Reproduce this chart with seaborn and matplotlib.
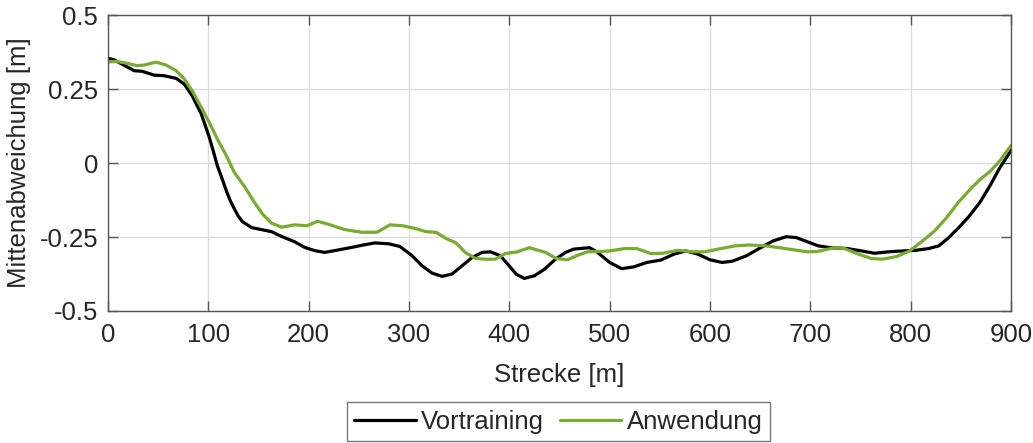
import numpy as np
import pandas as pd
import matplotlib
matplotlib.use("Agg")
import matplotlib.pyplot as plt
import seaborn as sns

# values
vortraining_x = [0, 6, 26, 34, 46, 56, 68, 76, 84, 93, 101, 105, 109, 114, 118, 122, 126, 130,
                 134, 143, 153, 163, 173, 186, 196, 206, 216, 226, 243, 256, 266, 280, 291, 303,
                 313, 323, 333, 343, 353, 363, 373, 381, 391, 400, 407, 415, 425, 435, 446, 456,
                 464, 480, 488, 500, 512, 524, 537, 551, 564, 576, 588, 600, 612, 622, 636, 649,
                 663, 676, 686, 697, 708, 720, 737, 751, 764, 778, 792, 805, 818, 828, 838, 848,
                 858, 869, 879, 889, 900]
vortraining_y = [0.354, 0.349, 0.312, 0.310, 0.297, 0.295, 0.286, 0.267, 0.227, 0.166, 0.087,
                 0.040, -0.009, -0.055, -0.094, -0.128, -0.155, -0.180, -0.198, -0.218, -0.225,
                 -0.232, -0.248, -0.266, -0.285, -0.296, -0.302, -0.296, -0.285, -0.276, -0.270,
                 -0.273, -0.282, -0.313, -0.347, -0.372, -0.383, -0.375, -0.347, -0.319, -0.302,
                 -0.300, -0.313, -0.348, -0.376, -0.390, -0.381, -0.359, -0.325, -0.302, -0.291,
                 -0.286, -0.302, -0.336, -0.357, -0.351, -0.336, -0.328, -0.308, -0.297, -0.308,
                 -0.327, -0.336, -0.332, -0.314, -0.289, -0.263, -0.249, -0.252, -0.266, -0.280,
                 -0.286, -0.289, -0.297, -0.305, -0.300, -0.297, -0.295, -0.289, -0.280, -0.252,
                 -0.218, -0.181, -0.133, -0.077, -0.015, 0.042]

anwendung_x = [0, 9, 19, 29, 36, 48, 58, 68, 76, 84, 93, 101, 109, 118, 126, 136, 146, 154, 163,
               173, 186, 198, 209, 219, 236, 253, 268, 281, 294, 306, 317, 327, 337, 347, 356,
               366, 376, 386, 396, 408, 420, 436, 447, 458, 468, 478, 490, 500, 515, 527, 541,
               553, 568, 582, 595, 608, 625, 639, 656, 669, 683, 697, 707, 724, 734, 748, 761,
               772, 786, 799, 812, 824, 836, 847, 859, 869, 879, 889, 900]
anwendung_y = [0.342, 0.343, 0.337, 0.329, 0.331, 0.341, 0.331, 0.312, 0.284, 0.244, 0.188,
               0.137, 0.081, 0.025, -0.032, -0.079, -0.133, -0.172, -0.203, -0.217, -0.209,
               -0.212, -0.197, -0.206, -0.225, -0.234, -0.234, -0.209, -0.212, -0.221, -0.232,
               -0.234, -0.255, -0.270, -0.302, -0.322, -0.325, -0.325, -0.306, -0.300, -0.286,
               -0.302, -0.323, -0.327, -0.312, -0.300, -0.299, -0.297, -0.289, -0.289, -0.306,
               -0.305, -0.295, -0.300, -0.300, -0.291, -0.280, -0.277, -0.280, -0.286, -0.293,
               -0.300, -0.299, -0.286, -0.289, -0.308, -0.323, -0.325, -0.316, -0.297, -0.263,
               -0.229, -0.184, -0.135, -0.090, -0.056, -0.029, 0.008, 0.059]

x_ticks = [0, 100, 200, 300, 400, 500, 600, 700, 800, 900]
y_ticks = [-0.5, -0.25, 0, 0.25, 0.5]
y_tick_labels = ["-0.5", "-0.25", "0", "0.25", "0.5"]

df = pd.concat([
    pd.DataFrame({"Strecke": vortraining_x, "Abweichung": vortraining_y, "Lauf": "Vortraining"}),
    pd.DataFrame({"Strecke": anwendung_x, "Abweichung": anwendung_y, "Lauf": "Anwendung"}),
])

sns.set_theme(style="ticks")
plt.rcParams["font.family"] = ["Liberation Sans", "DejaVu Sans"]
plt.rcParams["text.color"] = "#262626"
plt.rcParams["axes.labelcolor"] = "#262626"
plt.rcParams["xtick.color"] = "#262626"
plt.rcParams["ytick.color"] = "#262626"

fig = plt.figure(figsize=(10.33, 4.43), dpi=100)
ax = fig.add_axes([0.1045, 0.298, 0.8742, 0.668])

sns.lineplot(data=df, x="Strecke", y="Abweichung", hue="Lauf",
             palette={"Vortraining": "#000000", "Anwendung": "#77AC30"},
             linewidth=2.3, sort=False, estimator=None, ax=ax)

ax.set_xlim(0, 900)
ax.set_ylim(-0.5, 0.5)
ax.set_xticks(x_ticks)
ax.set_yticks(y_ticks)
ax.set_yticklabels(y_tick_labels)
ax.grid(True, color="#dcdcdc", linewidth=0.9)
ax.set_axisbelow(True)
for s in ax.spines.values():
    s.set_visible(True)
    s.set_color("#555555")
    s.set_linewidth(1.0)
ax.tick_params(axis="both", direction="in", length=7, width=1.0, color="#555555",
               labelsize=18.5, top=True, right=True)
ax.tick_params(axis="x", pad=9)
ax.tick_params(axis="y", pad=7)
ax.set_xlabel("Strecke [m]", fontsize=18.5, labelpad=11)
ax.set_ylabel("Mittenabweichung [m]", fontsize=18.5, labelpad=6)

handles, labels = ax.get_legend_handles_labels()
leg = ax.legend(handles, labels, loc="upper center", bbox_to_anchor=(0.5406, 0.093),
                bbox_transform=fig.transFigure, ncol=2, fontsize=18.5, frameon=True,
                fancybox=False, edgecolor="#555555", handlelength=2.4, handletextpad=0.2,
                columnspacing=0.6, borderpad=0.3, borderaxespad=0)
leg.get_frame().set_linewidth(1.0)

fig.savefig("out.png", dpi=100)
